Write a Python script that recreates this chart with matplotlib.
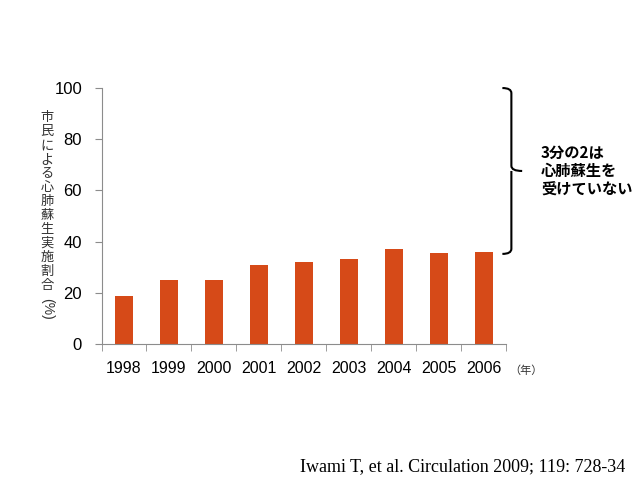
import matplotlib.pyplot as plt
from matplotlib.path import Path
from matplotlib.patches import PathPatch
import numpy as np

plt.rcParams['font.family'] = ['Liberation Sans', 'Noto Sans CJK JP', 'DejaVu Sans']

years = ['1998', '1999', '2000', '2001', '2002', '2003', '2004', '2005', '2006']
rates = [18.7, 25.0, 25.0, 30.7, 32.2, 33.3, 37.0, 35.4, 36.0]
ylabel_chars = '市民による心肺蘇生実施割合'
note = '3分の2は\n心肺蘇生を\n受けていない'
citation = 'Iwami T, et al. Circulation 2009; 119: 728-34'

fig = plt.figure(figsize=(6.4, 4.8), dpi=100)
ax = fig.add_axes([0.1586, 0.2833, 0.632, 0.5333])

x = np.arange(len(years))
ax.bar(x, rates, width=0.4, color='#D64A18')

ax.set_xlim(-0.5, len(years) - 0.5)
ax.set_ylim(0, 100)
ax.set_yticks([0, 20, 40, 60, 80, 100])
ax.set_xticks(x)
ax.set_xticklabels(years)
ax.set_xticks(np.arange(-0.5, len(years), 1), minor=True)
ax.tick_params(axis='x', which='major', length=0, pad=12, labelsize=11.5)
ax.tick_params(axis='x', which='minor', length=5, color='#8C8C8C', direction='out')
ax.tick_params(axis='y', length=5, color='#8C8C8C', pad=9, labelsize=12)
for s in ['top', 'right']:
    ax.spines[s].set_visible(False)
for s in ['left', 'bottom']:
    ax.spines[s].set_color('#8C8C8C')

# y label written vertically
fig.text(47 / 640, 1 - 111 / 480, '\n'.join(ylabel_chars), ha='center', va='top',
         fontsize=9.5, linespacing=1.1, color='#333333', family=['Noto Sans CJK JP'])
fig.text(47 / 640, 1 - 309 / 480, '(%)', ha='center', va='center', rotation=-90,
         fontsize=10, color='#333333', family=['Liberation Sans'])

fig.text(509 / 640, 1 - 371 / 480, '（年）', ha='left', va='center', fontsize=8,
         color='#333333', family=['Noto Sans CJK JP'])

# curly brace on the right
top_y, bot_y = 100, 35.2
mid_y = (top_y + bot_y) / 2
x0, x1, x2 = 8.42, 8.62, 8.86
r = 2.0
verts = [(x0, top_y), (x1, top_y), (x1, top_y - r),
         (x1, mid_y + r), (x1, mid_y), (x2, mid_y),
         (x1, mid_y), (x1, mid_y - r),
         (x1, bot_y + r), (x1, bot_y), (x0, bot_y)]
codes = [Path.MOVETO, Path.CURVE3, Path.CURVE3,
         Path.LINETO, Path.CURVE3, Path.CURVE3,
         Path.MOVETO, Path.LINETO,
         Path.LINETO, Path.CURVE3, Path.CURVE3]
ax.add_patch(PathPatch(Path(verts, codes), fill=False, lw=1.5, color='black', clip_on=False))

fig.text(541 / 640, 1 - 171 / 480, note, ha='left', va='center', fontsize=11,
         fontweight='bold', linespacing=1.2, family=['Noto Sans CJK JP'])

fig.text(300 / 640, 1 - 467 / 480, citation, ha='left', va='center', fontsize=13,
         family=['Liberation Serif'])

fig.savefig('out.png', dpi=100)
